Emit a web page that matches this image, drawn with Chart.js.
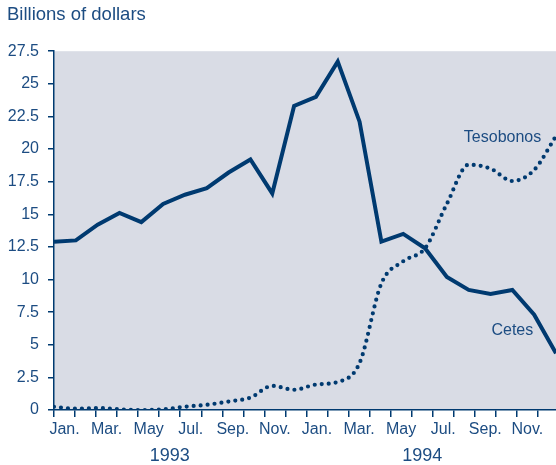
<!DOCTYPE html>
<html>
<head>
<meta charset="utf-8">
<script src="https://cdn.jsdelivr.net/npm/chart.js@4"></script>
<style>
    body { margin: 0; background: #fff; }
    #wrap { width: 556px; height: 465px; }
</style>
</head>
<body>
<div id="wrap"><canvas id="myChart" width="556" height="465"></canvas></div>
<script>
// monthly data, Jan 1993 - Dec 1994
const months = ['Jan.', 'Feb.', 'Mar.', 'Apr.', 'May', 'Jun.', 'Jul.', 'Aug.', 'Sep.', 'Oct.', 'Nov.', 'Dec.',
                'Jan.', 'Feb.', 'Mar.', 'Apr.', 'May', 'Jun.', 'Jul.', 'Aug.', 'Sep.', 'Oct.', 'Nov.', 'Dec.'];
const cetes = [12.9, 13.0, 14.2, 15.1, 14.4, 15.8, 16.5, 17.0, 18.2, 19.2, 16.6, 23.3,
               24.0, 26.7, 22.1, 12.9, 13.5, 12.4, 10.2, 9.2, 8.9, 9.2, 7.3, 4.35];
const tesobonos = [0.25, 0.1, 0.15, 0.05, 0.0, 0.05, 0.25, 0.4, 0.65, 0.95, 1.85, 1.55,
                   1.95, 2.15, 3.6, 9.7, 11.4, 12.4, 15.8, 18.8, 18.5, 17.55, 18.4, 21.0];
const yearLabels = ['1993', '1994'];
const yTicks = [0, 2.5, 5, 7.5, 10, 12.5, 15, 17.5, 20, 22.5, 25, 27.5];
const seriesNotes = [
    { text: 'Tesobonos', x: 20.55, y: 20.85 },
    { text: 'Cetes', x: 21.0, y: 6.1 }
];

const navy = '#003a70';
const textBlue = '#1c4c82';
const plotBg = '#d9dce5';
const monthSpan = 23.86; // month boundaries shown on the axis
const fontFamily = '"Liberation Sans", Arial, sans-serif';

// gray plot background
const plotBackground = {
    id: 'plotBackground',
    beforeDraw(chart) {
        const a = chart.chartArea;
        const c = chart.ctx;
        c.save();
        c.fillStyle = plotBg;
        c.fillRect(a.left, a.top, a.right - a.left, a.bottom - a.top);
        c.restore();
    }
};

// series names next to the lines
const seriesLabels = {
    id: 'seriesLabels',
    afterDatasetsDraw(chart) {
        const c = chart.ctx;
        const xs = chart.scales.x;
        const ys = chart.scales.y;
        c.save();
        c.font = '16px ' + fontFamily;
        c.fillStyle = textBlue;
        c.textAlign = 'center';
        c.textBaseline = 'middle';
        seriesNotes.forEach(n => {
            c.fillText(n.text, xs.getPixelForValue(n.x), ys.getPixelForValue(n.y));
        });
        c.restore();
    }
};

const ctx = document.getElementById('myChart').getContext('2d');
const myChart = new Chart(ctx, {
    type: 'line',
    data: {
        labels: months,
        datasets: [{
            label: 'Cetes',
            data: cetes,
            borderColor: navy,
            borderWidth: 4,
            borderJoinStyle: 'miter',
            pointRadius: 0,
            tension: 0
        }, {
            label: 'Tesobonos',
            data: tesobonos,
            borderColor: navy,
            borderWidth: 4.2,
            borderDash: [0, 7],
            borderCapStyle: 'round',
            cubicInterpolationMode: 'monotone',
            pointRadius: 0
        }]
    },
    plugins: [plotBackground, seriesLabels],
    options: {
        responsive: false,
        animation: false,
        clip: true,
        layout: { padding: { left: 7, right: 0, top: 0, bottom: 0 } },
        plugins: {
            legend: { display: false },
            tooltip: { enabled: false },
            title: {
                display: true,
                text: 'Billions of dollars',
                align: 'start',
                color: textBlue,
                font: { family: fontFamily, size: 18.5, weight: 'normal' },
                padding: { top: 4, bottom: 25 }
            }
        },
        scales: {
            x: {
                type: 'category',
                display: false,
                offset: false
            },
            xm: {
                type: 'linear',
                position: 'bottom',
                min: 0,
                max: monthSpan,
                afterBuildTicks: axis => {
                    const t = [];
                    for (let i = 0; i < months.length; i++) {
                        t.push({ value: i });
                        t.push({ value: i + 0.5 });
                    }
                    axis.ticks = t;
                },
                afterFit: axis => { axis.height = 29; },
                grid: {
                    drawOnChartArea: false,
                    drawTicks: true,
                    tickLength: 7,
                    lineWidth: 1.5,
                    color: c => (c.tick && c.tick.value % 1 === 0) ? navy : 'rgba(0,0,0,0)'
                },
                border: { display: true, color: navy, width: 1.5 },
                ticks: {
                    autoSkip: false,
                    maxRotation: 0,
                    padding: 3,
                    color: textBlue,
                    font: { family: fontFamily, size: 16 },
                    callback: v => {
                        if (v % 1 === 0) return '';
                        const i = Math.floor(v);
                        return i % 2 === 0 ? months[i] : '';
                    }
                }
            },
            xy: {
                type: 'linear',
                position: 'bottom',
                min: 0,
                max: monthSpan,
                afterBuildTicks: axis => {
                    axis.ticks = yearLabels.map((y, k) => ({ value: 5.5 + 12 * k }));
                },
                afterFit: axis => { axis.height = 26; },
                grid: { display: false, drawTicks: false },
                border: { display: false },
                ticks: {
                    autoSkip: false,
                    maxRotation: 0,
                    padding: 8,
                    color: textBlue,
                    font: { family: fontFamily, size: 18, lineHeight: 1 },
                    callback: v => yearLabels[Math.round((v - 5.5) / 12)]
                }
            },
            y: {
                min: 0,
                max: 27.5,
                afterBuildTicks: axis => {
                    axis.ticks = yTicks.map(v => ({ value: v }));
                },
                afterFit: axis => { axis.width = 47; },
                grid: {
                    drawOnChartArea: false,
                    drawTicks: true,
                    tickLength: 6,
                    lineWidth: 1.5,
                    color: navy
                },
                border: { display: true, color: navy, width: 1.5 },
                ticks: {
                    padding: 9,
                    color: textBlue,
                    font: { family: fontFamily, size: 16 },
                    callback: v => String(v)
                }
            }
        }
    }
});
</script>
</body>
</html>
